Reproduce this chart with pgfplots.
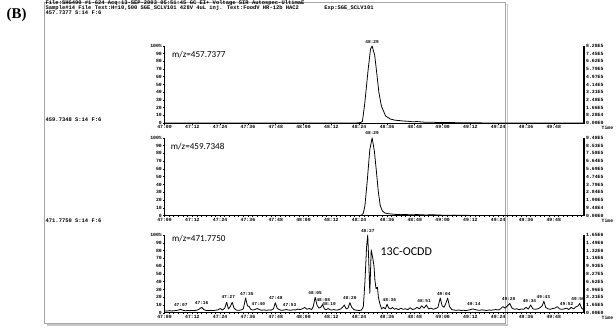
\documentclass[border=0pt]{standalone}
\usepackage{pgfplots}
\pgfplotsset{compat=1.18}
\usepackage{fontspec}
\setmainfont{Liberation Serif}
\newfontfamily\mono{Liberation Mono}
\newfontfamily\carl{Carlito}
\newcommand\tk{\mono\bfseries\fontsize{5.8}{5.8}\selectfont}
\newcommand\hd{\mono\bfseries\fontsize{6.6}{6.6}\selectfont}
\newcommand\pk{\mono\bfseries\fontsize{5.4}{5.4}\selectfont}

\pgfplotstableread{
t v
0 0
83 0
84.6 0.5
85.4 2
86.4 25
87.9 70
88.9 96
89.6 100
90.7 88
91.4 70
92.5 40
93.6 22
95.4 9
97.5 5
99.6 3.5
101 3.2
103 2.5
105 2.2
107 1.5
109 1.8
112 1
116 0.8
120 0.5
125 0.4
130 0.2
140 0
181 0
}\pone

\pgfplotstableread{
t v
0 0
84 0
85 0.5
85.8 3
86.5 13
87.5 45
88.6 85
89.6 100
90.6 82
91.5 55
92.3 30
93.1 13
94 6
95 3.5
96.5 2.5
98 2
100 1.5
102 1.2
104 1.6
105 1.2
107 1
109 1.4
110 1.1
113 0.8
115 1.1
117 0.9
120 0.5
125 0.6
130 0.3
140 0.1
181 0
}\ptwo

\pgfplotstableread{
t v
0 2.5
1 2.2
2 2.8
3 2.4
4 2.6
5 3.0
6 3.5
7 4.5
8 3.2
9 2.6
10 3.0
11 2.7
12 3.1
13 2.8
14 3.4
15 4.8
16 7
17 4.0
18 3.0
19 2.8
20 3.2
21 2.9
22 3.3
23 3.8
24 5.5
25 3.5
26 6
26.8 13.5
27.6 5
28.4 8
29.2 13.5
30 6
31 3.5
32 3.2
33 3.6
34 5
35 19
35.8 9
36.5 8
37.2 4.5
38 3.5
39 4.2
40 5.5
41 4
42 3.3
43 3.8
44 3.2
45 3.6
46 3.4
47 5
47.8 13
48.6 6
49.5 4
50.5 3.2
51.5 3.5
52.5 4.2
53.5 3.6
54.5 3.2
55.5 4
56.5 3.6
57.5 4.8
58.5 4.0
59.5 5.2
60.5 6.8
61.5 4.5
62.5 5.5
63.5 4.2
64.2 8
65 20
65.8 10
66.6 6
67.4 7
68.2 10.5
69 5
69.8 4
70.6 5.5
71.4 4
72.2 3.5
73 4.2
74 3.5
75 3.8
76 5
76.8 7
77.6 10
78.4 5
79.2 6
80 13
80.8 7
81.6 4.5
82.4 3.5
83.2 3.2
84.0 3.0
85 3.5
85.8 8
86.5 40
87.2 85
87.7 100
88.1 70
88.6 25
89.2 81
89.9 70
90.4 60
90.8 42
91.3 31
91.9 33
92.3 20
92.9 12
93.7 5
94.5 7
95.3 5
96 11
96.8 6
97.6 5
98.4 7
99.2 4.5
100 5.5
101 4
102 6
103 4.5
104 5.2
105 4
106 6.5
107 4.2
108 5
109 7
110 5
111 9
112 6
113 10
114 5
115 6
116 4.5
117 5.5
118 7
119 19
119.8 9
120.6 7
121.4 12
122.2 19
123 8
124 4
125 3.5
126 3.2
127 3.6
128 3.0
129 3.3
130 2.8
131 3.4
132 4
133 5
134 4.2
135 3.5
136 3.2
137 3.8
138 3.4
139 3.0
140 3.6
141 3.3
142 3.8
143 4.2
144 3.6
145 5
146 8
147 6
148 9
149 12
150 6
151 4.5
152 5.2
153 4
154 5
155 4.5
156 7
157 4.8
158 10
159 5
160 4.5
161 5
162 6.5
163 9
163.7 15
164.5 7
165.5 5
166.5 4.6
167.5 5.5
168.5 6
169.5 8
170.5 5
171.5 4.5
172.5 5
173.5 6
174.5 4.2
175.5 7
176.5 5
177.5 7.5
178.5 9
179.2 12
180 6
181 4
}\pthree

\pgfplotsset{
  panel/.style={
    scale only axis, width=507pt, height=93pt,
    xmin=0, xmax=181, ymin=0, ymax=100, clip=false,
    axis x line*=bottom, axis y line*=left,
    axis line style={line width=0.8pt},
    xtick={0,12,...,168},
    xticklabels={47:00,47:12,47:24,47:36,47:48,48:00,48:12,48:24,48:36,48:48,49:00,49:12,49:24,49:36,49:48},
    minor xtick={0,2,...,180},
    ytick={0,10,...,100},
    yticklabels={0,10,20,30,40,50,60,70,80,90,100\%},
    tick align=outside, major tick length=2pt, minor tick length=1.2pt,
    tick style={black, line width=0.7pt},
    ticklabel style={font=\tk, inner sep=1pt},
    xticklabel style={yshift=0.5pt},
  },
  rpanel/.style={
    scale only axis, width=507pt, height=93pt,
    xmin=0, xmax=181, ymin=0, ymax=100,
    axis x line=none, axis y line*=right,
    axis line style={line width=2.2pt},
    ytick={0,10,...,100},
    tick align=outside, major tick length=1.5pt,
    tick style={black, line width=0.7pt},
    ticklabel style={font=\tk, inner sep=1pt},
  },
  trace/.style={black, line width=0.95pt, line join=round},
}

\begin{document}
\begin{tikzpicture}[x=1pt,y=1pt]
\path (0,0) rectangle (616,396);
% frame
\draw[gray!70, line width=1.6pt] (54,393) rectangle (611,5);
\draw[gray!45, line width=1.6pt] (613.2,391) -- (613.2,3) -- (57,3);
\node[font=\bfseries\fontsize{18}{18}\selectfont, anchor=center] at (20,378) {(B)};
% header
\node[font=\hd, anchor=west, inner sep=0pt] at (55,392) {File:SHG490 \#1-624 Acq:13-SEP-2003 05:51:45 GC EI+ Voltage SIR Autospec-UltimaE};
\node[font=\hd, anchor=west, inner sep=0pt] at (55,386.5) {Sample\#14 File Text:H=10,500 SGE\_SCLV101 428V 4uL inj. Text:FoodV HR-12b HAC2};
\node[font=\hd, anchor=west, inner sep=0pt] at (392,386.5) {Exp:SGE\_SCLV101};
\node[font=\hd, anchor=west, inner sep=0pt] at (55,380.5) {457.7377 S:14 F:6};
\node[font=\hd, anchor=west, inner sep=0pt] at (55,251) {459.7348 S:14 F:6};
\node[font=\hd, anchor=west, inner sep=0pt] at (55,129) {471.7750 S:14 F:6};

% panel 1
\begin{axis}[panel, at={(71,266)}, anchor=south west]
\addplot[trace] table[x=t,y=v] {\pone};
\node[font=\carl\fontsize{11}{11}\selectfont, anchor=west] at (axis cs:2,89) {m/z=457.7377};
\node[font=\pk, anchor=south] at (axis cs:89.6,100) {48:29};
\node[font=\tk, anchor=west] at (axis cs:181,0) [xshift=18pt, yshift=-6pt] {Time};
\end{axis}
\begin{axis}[rpanel, at={(71,266)}, anchor=south west,
  yticklabels={0.00E0,8.28E4,1.66E5,2.48E5,3.31E5,4.14E5,4.97E5,5.79E5,6.62E5,7.45E5,8.28E5}]
\end{axis}

% panel 2
\begin{axis}[panel, at={(71,144)}, anchor=south west, height=94pt]
\addplot[trace] table[x=t,y=v] {\ptwo};
\node[font=\carl\fontsize{11}{11}\selectfont, anchor=west] at (axis cs:1.5,89) {m/z=459.7348};
\node[font=\pk, anchor=south] at (axis cs:89.6,100) {48:29};
\node[font=\tk, anchor=west] at (axis cs:181,0) [xshift=18pt, yshift=-6pt] {Time};
\end{axis}
\begin{axis}[rpanel, at={(71,144)}, anchor=south west, height=94pt,
  yticklabels={0.00E0,9.48E4,1.90E5,2.84E5,3.79E5,4.74E5,5.69E5,6.64E5,7.58E5,8.53E5,9.48E5}]
\end{axis}

% panel 3
\begin{axis}[panel, at={(71,19)}, anchor=south west, height=94pt]
\addplot[trace] table[x=t,y=v] {\pthree};
\node[font=\carl\fontsize{11}{11}\selectfont, anchor=west] at (axis cs:2,95) {m/z=471.7750};
\node[font=\carl\fontsize{14.5}{14.5}\selectfont, anchor=west] at (axis cs:92,79) {13C-OCDD};
\node[font=\pk, anchor=south] at (axis cs:87.7,100) {48:27};
\node[font=\pk, anchor=south] at (axis cs:7,4) {47:07};
\node[font=\pk, anchor=south] at (axis cs:16,7) {47:16};
\node[font=\pk, anchor=south] at (axis cs:27.5,14) {47:27};
\node[font=\pk, anchor=south] at (axis cs:35.5,19) {47:35};
\node[font=\pk, anchor=south] at (axis cs:40.5,5.5) {47:40};
\node[font=\pk, anchor=south] at (axis cs:48,13) {47:48};
\node[font=\pk, anchor=south] at (axis cs:54,4.2) {47:53};
\node[font=\pk, anchor=south] at (axis cs:65,20) {48:05};
\node[font=\pk, anchor=south] at (axis cs:68.5,10.5) {48:08};
\node[font=\pk, anchor=south] at (axis cs:71,5.5) {48:10};
\node[font=\pk, anchor=south] at (axis cs:80,13) {48:20};
\node[font=\pk, anchor=south] at (axis cs:97,11) {48:36};
\node[font=\pk, anchor=south] at (axis cs:112,10) {48:51};
\node[font=\pk, anchor=south] at (axis cs:120.5,19) {49:04};
\node[font=\pk, anchor=south] at (axis cs:133.5,5) {49:14};
\node[font=\pk, anchor=south] at (axis cs:148.5,12) {49:28};
\node[font=\pk, anchor=south] at (axis cs:157.5,10) {49:34};
\node[font=\pk, anchor=south] at (axis cs:163.5,15) {49:43};
\node[font=\pk, anchor=south] at (axis cs:173.5,6) {49:52};
\node[font=\pk, anchor=south] at (axis cs:178.5,12) {49:56};
\node[font=\tk, anchor=west] at (axis cs:181,0) [xshift=18pt, yshift=-6pt] {Time};
\end{axis}
\begin{axis}[rpanel, at={(71,19)}, anchor=south west, height=94pt,
  yticklabels={0.00E0,1.65E5,3.31E5,4.96E5,6.62E5,8.27E5,9.93E5,1.16E6,1.32E6,1.49E6,1.65E6}]
\end{axis}
\end{tikzpicture}
\end{document}
